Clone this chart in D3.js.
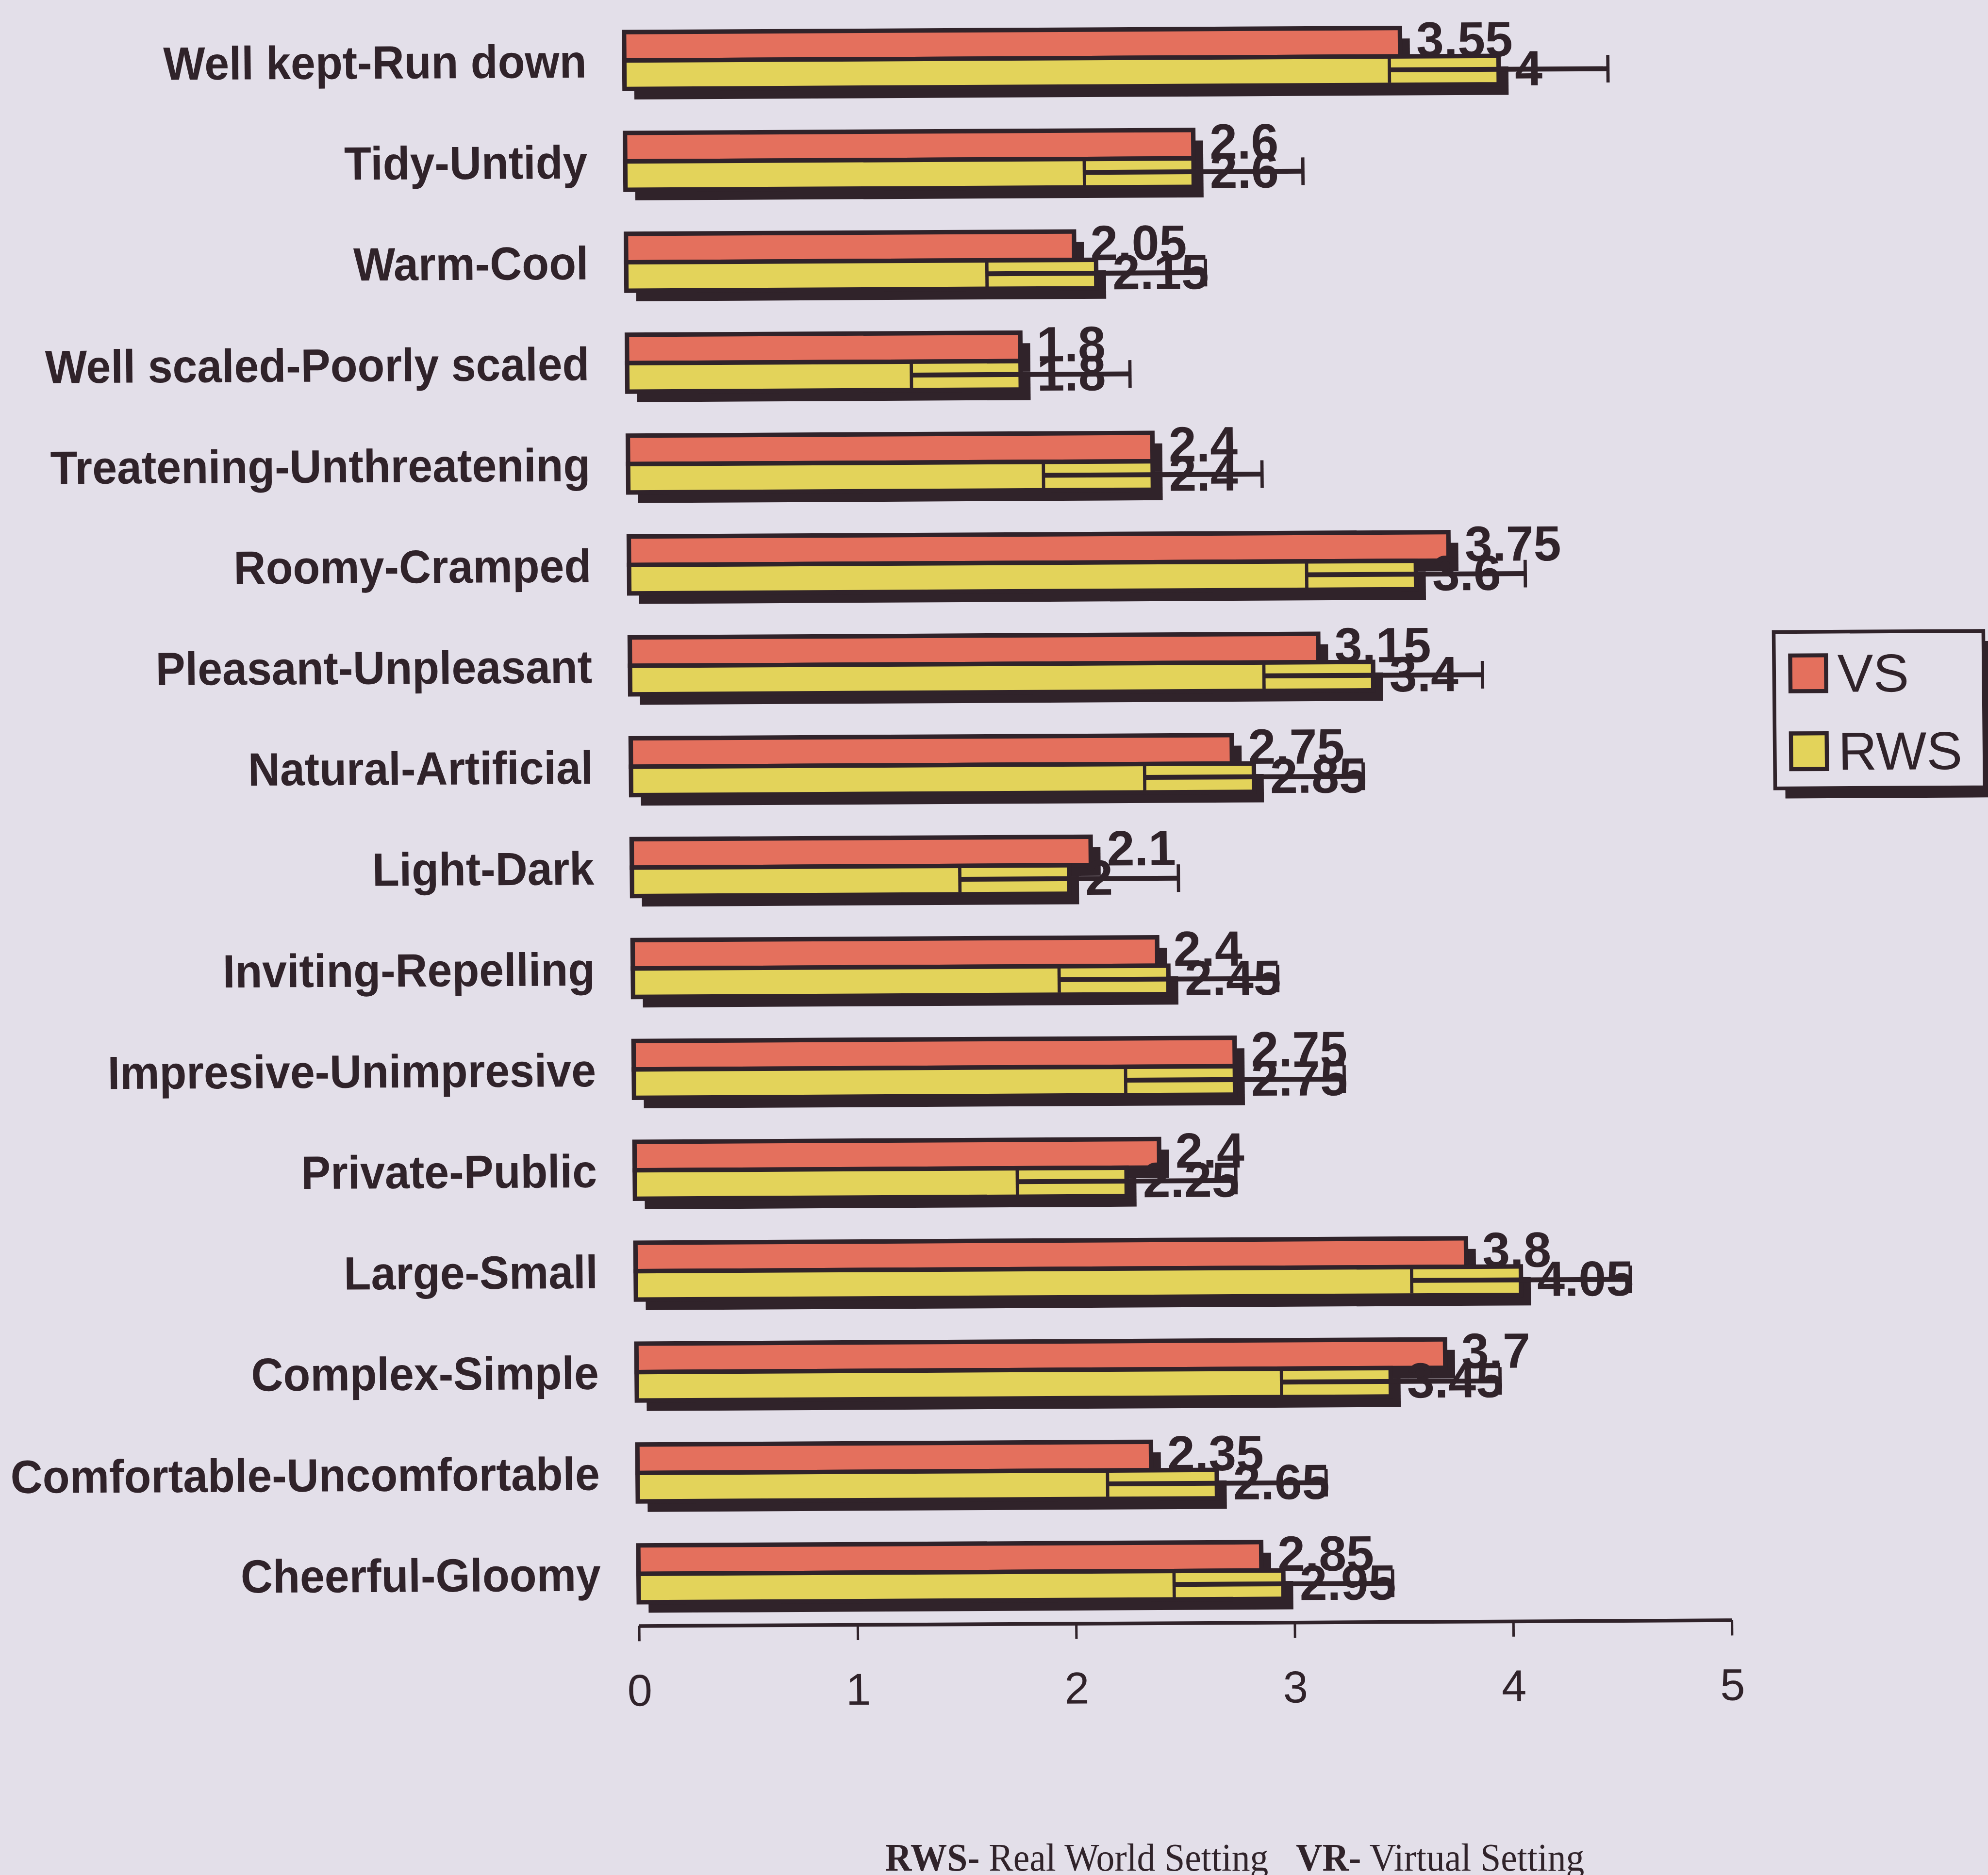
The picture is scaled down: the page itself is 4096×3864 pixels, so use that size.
<!DOCTYPE html>
<html>
<head>
<meta charset="utf-8">
<script src="https://cdn.jsdelivr.net/npm/d3@7"></script>
<style>
  html, body { margin: 0; padding: 0; background: #e3dfe9; }
  svg { display: block; }
</style>
</head>
<body>
<script>
// Semantic differential ratings: virtual setting (VS) vs real world setting (RWS)
const categories = [
  "Well kept-Run down", "Tidy-Untidy", "Warm-Cool", "Well scaled-Poorly scaled",
  "Treatening-Unthreatening", "Roomy-Cramped", "Pleasant-Unpleasant", "Natural-Artificial",
  "Light-Dark", "Inviting-Repelling", "Impresive-Unimpresive", "Private-Public",
  "Large-Small", "Complex-Simple", "Comfortable-Uncomfortable", "Cheerful-Gloomy"
];
const vsValues  = [3.55, 2.6, 2.05, 1.8, 2.4, 3.75, 3.15, 2.75, 2.1, 2.4, 2.75, 2.4, 3.8, 3.7, 2.35, 2.85];
const rwsValues = [4, 2.6, 2.15, 1.8, 2.4, 3.6, 3.4, 2.85, 2, 2.45, 2.75, 2.25, 4.05, 3.45, 2.65, 2.95];
const rwsError  = [0.5, 0.5, 0.5, 0.5, 0.5, 0.5, 0.5, 0.5, 0.5, 0.5, 0.5, 0.5, 0.5, 0.5, 0.5, 0.5];
const xTicks = [0, 1, 2, 3, 4, 5];
const seriesNames = ["VS", "RWS"];
const footnote = [
  { text: "RWS-", bold: true }, { text: " Real World Setting\u00a0\u00a0 ", bold: false },
  { text: "VR-", bold: true }, { text: " Virtual Setting", bold: false }
];

const W = 4096, H = 3864, S = 0.837;
const ink = "#30232a", red = "#e4705d", yellow = "#e3d35a", bg = "#e3dfe9";
const sans = "'Liberation Sans', Arial, sans-serif";

const svg = d3.select("body").append("svg").attr("width", W).attr("height", H);
svg.append("rect").attr("width", W).attr("height", H).attr("fill", bg);

const root = svg.append("g").attr("transform", `scale(${S})`);

// the printed figure sits slightly askew on the page
const ox = 1573, oy = 4003;
const plot = root.append("g")
  .attr("transform", `translate(${ox},${oy}) matrix(1,-0.0053,0.0094,1,0,0) translate(${-ox},${-oy})`);

const x = d3.scaleLinear().domain([0, 5]).range([1573, 4263]);
const y = d3.scaleBand().domain(categories).range([24.8, 3999.2]).paddingInner(0);
const half = 70, shadowDx = 24, shadowDy = 26;

const rows = categories.map((c, i) => ({ c, vs: vsValues[i], rws: rwsValues[i], err: rwsError[i] }));
const mid = d => y(d.c) + y.bandwidth() / 2;

// category labels, set in a slightly narrow bold face
plot.append("g").selectAll("text").data(rows).join("text")
  .attr("x", 1480).attr("y", d => mid(d))
  .attr("dy", "0.36em")
  .attr("text-anchor", "end")
  .attr("font-family", sans).attr("font-weight", "bold").attr("font-size", 115)
  .attr("fill", ink)
  .text(d => d.c)
  .each(function () {
    const w = this.getComputedTextLength();
    d3.select(this).attr("textLength", w * 0.95).attr("lengthAdjust", "spacingAndGlyphs");
  });

const bars = plot.append("g").selectAll("g").data(rows).join("g");

// drop shadows
bars.append("rect").attr("x", x(0) + shadowDx).attr("y", d => mid(d) - half + shadowDy)
  .attr("width", d => x(d.vs) - x(0)).attr("height", half).attr("fill", ink);
bars.append("rect").attr("x", x(0) + shadowDx).attr("y", d => mid(d) + shadowDy)
  .attr("width", d => x(d.rws) - x(0)).attr("height", half).attr("fill", ink);

// VS bar
bars.append("rect").attr("x", x(0)).attr("y", d => mid(d) - half)
  .attr("width", d => x(d.vs) - x(0)).attr("height", half)
  .attr("fill", red).attr("stroke", ink).attr("stroke-width", 11);
// RWS bar
bars.append("rect").attr("x", x(0)).attr("y", d => mid(d))
  .attr("width", d => x(d.rws) - x(0)).attr("height", half)
  .attr("fill", yellow).attr("stroke", ink).attr("stroke-width", 11);

// RWS error bars
const ey = d => mid(d) + half / 2 - 2;
bars.append("line")
  .attr("x1", d => x(d.rws - d.err)).attr("x2", d => x(d.rws + d.err))
  .attr("y1", ey).attr("y2", ey)
  .attr("stroke", ink).attr("stroke-width", 12);
bars.append("line")
  .attr("x1", d => x(d.rws - d.err)).attr("x2", d => x(d.rws - d.err))
  .attr("y1", d => ey(d) - 32).attr("y2", d => ey(d) + 32)
  .attr("stroke", ink).attr("stroke-width", 8);
bars.append("line")
  .attr("x1", d => x(d.rws + d.err)).attr("x2", d => x(d.rws + d.err))
  .attr("y1", d => ey(d) - 34).attr("y2", d => ey(d) + 34)
  .attr("stroke", ink).attr("stroke-width", 8);

// value labels
bars.append("text")
  .attr("x", d => x(d.vs) + 40).attr("y", d => mid(d) - half / 2 - 8)
  .attr("dy", "0.36em")
  .attr("font-family", sans).attr("font-weight", "bold").attr("font-size", 122)
  .attr("fill", ink).text(d => String(d.vs));
bars.append("text")
  .attr("x", d => x(d.rws) + 40).attr("y", d => mid(d) + half / 2 - 6)
  .attr("dy", "0.36em")
  .attr("font-family", sans).attr("font-weight", "bold").attr("font-size", 122)
  .attr("fill", ink).text(d => String(d.rws));

// value axis
const axis = plot.append("g").attr("transform", `translate(0,${oy})`)
  .call(d3.axisBottom(x).tickValues(xTicks).tickFormat(d3.format("d"))
    .tickSize(38).tickSizeOuter(0).tickPadding(81));
axis.select(".domain").attr("stroke", ink).attr("stroke-width", 9);
axis.selectAll(".tick line").attr("stroke", ink).attr("stroke-width", 6);
axis.selectAll(".tick text").attr("font-family", sans).attr("font-size", 110).attr("fill", ink);

// legend
const lg = plot.append("g").attr("transform", "translate(4389,1571)");
lg.append("rect").attr("x", 25).attr("y", 25).attr("width", 516).attr("height", 385).attr("fill", ink);
lg.append("rect").attr("width", 516).attr("height", 385).attr("fill", bg)
  .attr("stroke", ink).attr("stroke-width", 9);
const legendColor = d3.scaleOrdinal().domain(seriesNames).range([red, yellow]);
const li = lg.selectAll("g.item").data(seriesNames).join("g")
  .attr("class", "item").attr("transform", (d, i) => `translate(40,${58 + i * 192})`);
li.append("rect").attr("width", 88).attr("height", 88)
  .attr("fill", d => legendColor(d)).attr("stroke", ink).attr("stroke-width", 10);
li.append("text").attr("x", 116).attr("y", 90)
  .attr("font-family", sans).attr("font-size", 132).attr("fill", ink).text(d => d);

// footnote
const fn = root.append("text")
  .attr("x", 2179).attr("y", 4606)
  .attr("font-family", "'Liberation Serif', 'Times New Roman', serif")
  .attr("font-size", 97).attr("fill", ink)
  .attr("textLength", 1721).attr("lengthAdjust", "spacingAndGlyphs");
fn.selectAll("tspan").data(footnote).join("tspan")
  .attr("font-weight", d => d.bold ? "bold" : "normal")
  .text(d => d.text);
</script>
</body>
</html>
